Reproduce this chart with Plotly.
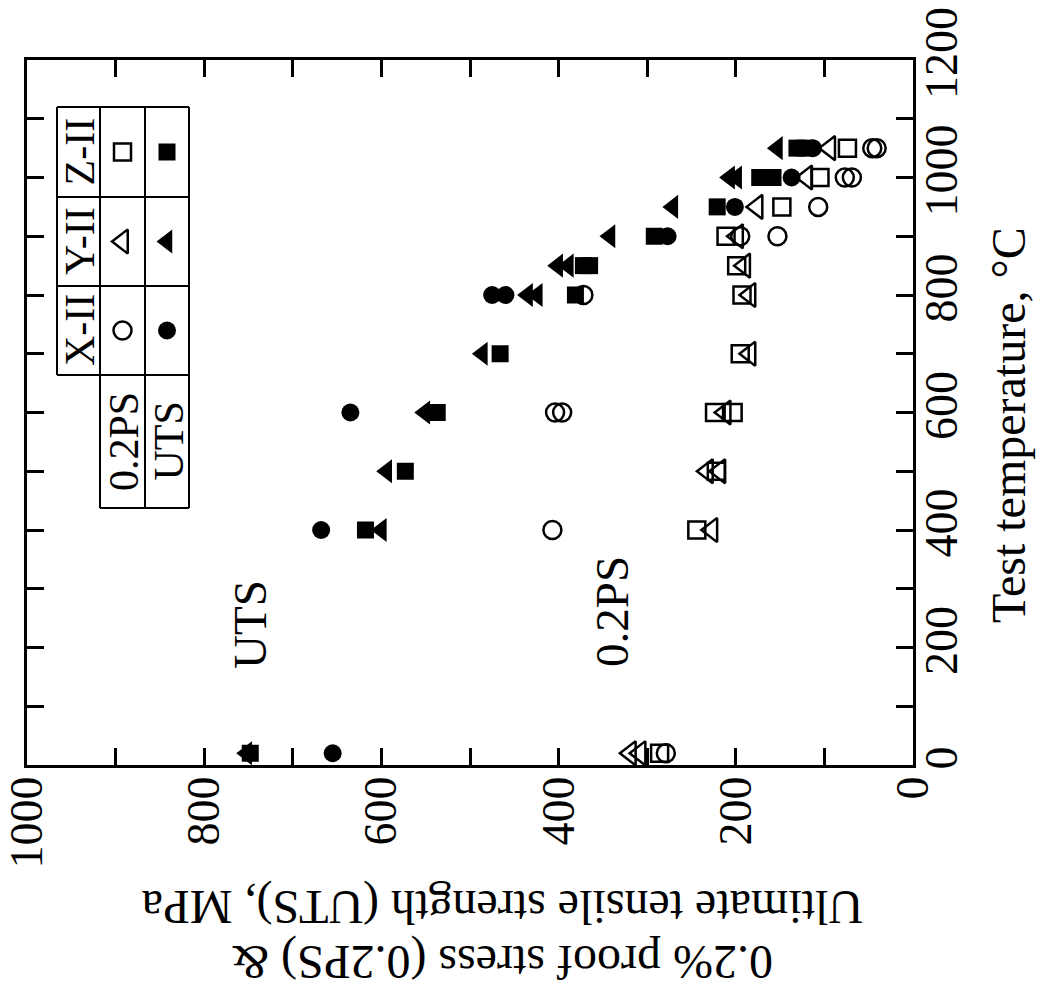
import plotly.graph_objects as go

# Tensile test results: test temperature (deg C) vs. strength (MPa)
# X-II alloy
x_ps_temp = [20, 400, 600, 600, 800, 900, 900, 950, 1000, 1000, 1050, 1050]
x_ps_mpa = [279, 407, 404, 396, 372, 195, 153, 107, 77, 69, 46, 41]
x_uts_temp = [20, 400, 600, 800, 800, 900, 950, 1000, 1050]
x_uts_mpa = [655, 668, 635, 475, 460, 277, 201, 137, 113]
# Y-II alloy
y_ps_temp = [20, 20, 400, 500, 500, 600, 700, 800, 850, 900, 950, 1000, 1050]
y_ps_mpa = [319, 308, 227, 232, 218, 212, 184, 184, 190, 198, 176, 120, 94]
y_uts_temp = [20, 400, 500, 600, 700, 800, 800, 850, 850, 900, 950, 1000, 1000, 1050]
y_uts_mpa = [752, 600, 594, 551, 486, 435, 424, 401, 389, 342, 271, 207, 199, 153]
# Z-II alloy
z_ps_temp = [20, 400, 500, 600, 600, 700, 800, 850, 900, 950, 1000, 1050]
z_ps_mpa = [286, 244, 222, 224, 203, 195, 193, 199, 211, 148, 105, 74]
z_uts_temp = [20, 400, 500, 600, 700, 800, 850, 850, 900, 950, 1000, 1000, 1050, 1050]
z_uts_mpa = [748, 618, 573, 537, 466, 381, 372, 365, 292, 221, 173, 158, 131, 122]

alloys = ["X-II", "Y-II", "Z-II"]
properties = ["0.2PS", "UTS"]
temp_ticks = [0, 200, 400, 600, 800, 1000, 1200]
stress_ticks = [0, 200, 400, 600, 800, 1000]

FONT = "Liberation Serif, Times New Roman, serif"
INK = "black"

# figure placement of the plotting area (pixels)
W, H = 1041, 1000
L, R, T, B = 27, 913, 60, 765

# marker styling per alloy: (open symbol, filled symbol, size)
styles = {
    "X-II": ("circle-open", "circle", 18),
    "Y-II": ("triangle-left-open", "triangle-left", 21),
    "Z-II": ("square-open", "square", 17),
}

series = [
    ("X-II", "0.2PS", x_ps_temp, x_ps_mpa),
    ("X-II", "UTS", x_uts_temp, x_uts_mpa),
    ("Y-II", "0.2PS", y_ps_temp, y_ps_mpa),
    ("Y-II", "UTS", y_uts_temp, y_uts_mpa),
    ("Z-II", "0.2PS", z_ps_temp, z_ps_mpa),
    ("Z-II", "UTS", z_uts_temp, z_uts_mpa),
]


def marker_style(alloy, prop):
    open_sym, fill_sym, size = styles[alloy]
    if prop == "0.2PS":
        return dict(symbol=open_sym, size=size, color=INK,
                    line=dict(color=INK, width=2.5))
    return dict(symbol=fill_sym, size=size, color=INK,
                line=dict(color=INK, width=0))


def px(x, y):
    """Pixel position on the page -> paper coordinates."""
    return (x - L) / (R - L), (B - y) / (B - T)


fig = go.Figure()

# The chart is laid out sideways: strength runs along the bottom
# (high values on the left) and temperature runs up the right side.
for alloy, prop, temps, mpa in series:
    fig.add_trace(go.Scatter(
        x=mpa, y=temps, mode="markers", name=f"{alloy} {prop}",
        marker=marker_style(alloy, prop), showlegend=False,
        cliponaxis=False,
    ))

# ---- key table (drawn on a pixel-space overlay) ----
tx0, tx1, tx2, tx3 = 57, 100, 145, 189      # column boundaries
ty = [107, 197, 286, 375, 508]              # row boundaries
header_rows = {"Z-II": (ty[0], ty[1]), "Y-II": (ty[1], ty[2]), "X-II": (ty[2], ty[3])}

lines = [
    (tx0, ty[0], tx3, ty[0]),
    (tx0, ty[1], tx3, ty[1]),
    (tx0, ty[2], tx3, ty[2]),
    (tx0, ty[3], tx3, ty[3]),
    (tx1, ty[4], tx3, ty[4]),
    (tx0, ty[0], tx0, ty[3]),
    (tx1, ty[0], tx1, ty[4]),
    (tx2, ty[0], tx2, ty[4]),
    (tx3, ty[0], tx3, ty[4]),
]
shapes = [dict(type="line", xref="x2", yref="y2", x0=a, y0=b, x1=c, y1=d,
               line=dict(color=INK, width=2)) for a, b, c, d in lines]

annotations = []
for alloy, (r0, r1) in header_rows.items():
    annotations.append(dict(xref="x2", yref="y2", x=(tx0 + tx1) / 2 + 1, y=(r0 + r1) / 2,
                            text=alloy, showarrow=False, textangle=-90,
                            font=dict(family=FONT, size=42, color=INK)))
    for prop, (c0, c1) in zip(properties, [(tx1, tx2), (tx2, tx3)]):
        fig.add_trace(go.Scatter(
            x=[(c0 + c1) / 2], y=[(r0 + r1) / 2], xaxis="x2", yaxis="y2",
            mode="markers", marker=marker_style(alloy, prop),
            showlegend=False, hoverinfo="skip",
        ))
for prop, (c0, c1) in zip(properties, [(tx1, tx2), (tx2, tx3)]):
    annotations.append(dict(xref="x2", yref="y2", x=(c0 + c1) / 2 + 1, y=(ty[3] + ty[4]) / 2,
                            text=prop, showarrow=False, textangle=-90,
                            font=dict(family=FONT, size=42, color=INK)))

# group labels inside the plot
annotations += [
    dict(xref="x2", yref="y2", x=250, y=625, text="UTS", showarrow=False,
         textangle=-90, font=dict(family=FONT, size=47, color=INK)),
    dict(xref="x2", yref="y2", x=612, y=612, text="0.2PS", showarrow=False,
         textangle=-90, font=dict(family=FONT, size=47, color=INK)),
]

# axis titles (sideways / upside down to suit the rotated layout)
for text, (cx, cy), angle in [
    ("Ultimate tensile strength (UTS), MPa", (503, 907), 180),
    ("0.2% proof stress (0.2PS) &", (503, 962), 180),
    ("Test temperature, \u00b0C", (1008, 425), -90),
]:
    xp, yp = px(cx, cy)
    annotations.append(dict(xref="paper", yref="paper", x=xp, y=yp, text=text,
                            xanchor="center", yanchor="middle", showarrow=False,
                            textangle=angle, font=dict(family=FONT, size=48, color=INK)))

axis_common = dict(
    showline=True, linewidth=3, linecolor=INK, mirror="ticks",
    ticks="inside", ticklen=17, tickwidth=2.5, tickcolor=INK,
    showgrid=False, zeroline=False, tickangle=-90, automargin=False,
    tickfont=dict(family=FONT, size=46, color=INK),
)
minor_ticks = dict(tickmode="linear", tick0=0, dtick=100, ticks="inside",
                   ticklen=17, tickwidth=2.5, tickcolor=INK)

fig.update_layout(
    width=W, height=H,
    margin=dict(l=L, r=W - R, t=T, b=H - B),
    paper_bgcolor="white", plot_bgcolor="white",
    xaxis=dict(range=[1000, 0], tickmode="array", tickvals=stress_ticks,
               ticktext=[str(v) for v in stress_ticks],
               minor=minor_ticks, ticklabelstandoff=-10, **axis_common),
    yaxis=dict(range=[0, 1200], side="right", tickmode="array", tickvals=temp_ticks,
               ticktext=[str(v) for v in temp_ticks],
               minor=minor_ticks, ticklabelstandoff=-14, **axis_common),
    xaxis2=dict(range=[L, R], overlaying="x", visible=False, fixedrange=True),
    yaxis2=dict(range=[B, T], overlaying="y", visible=False, fixedrange=True),
    shapes=shapes,
    annotations=annotations,
)

fig.write_html("out.html")
